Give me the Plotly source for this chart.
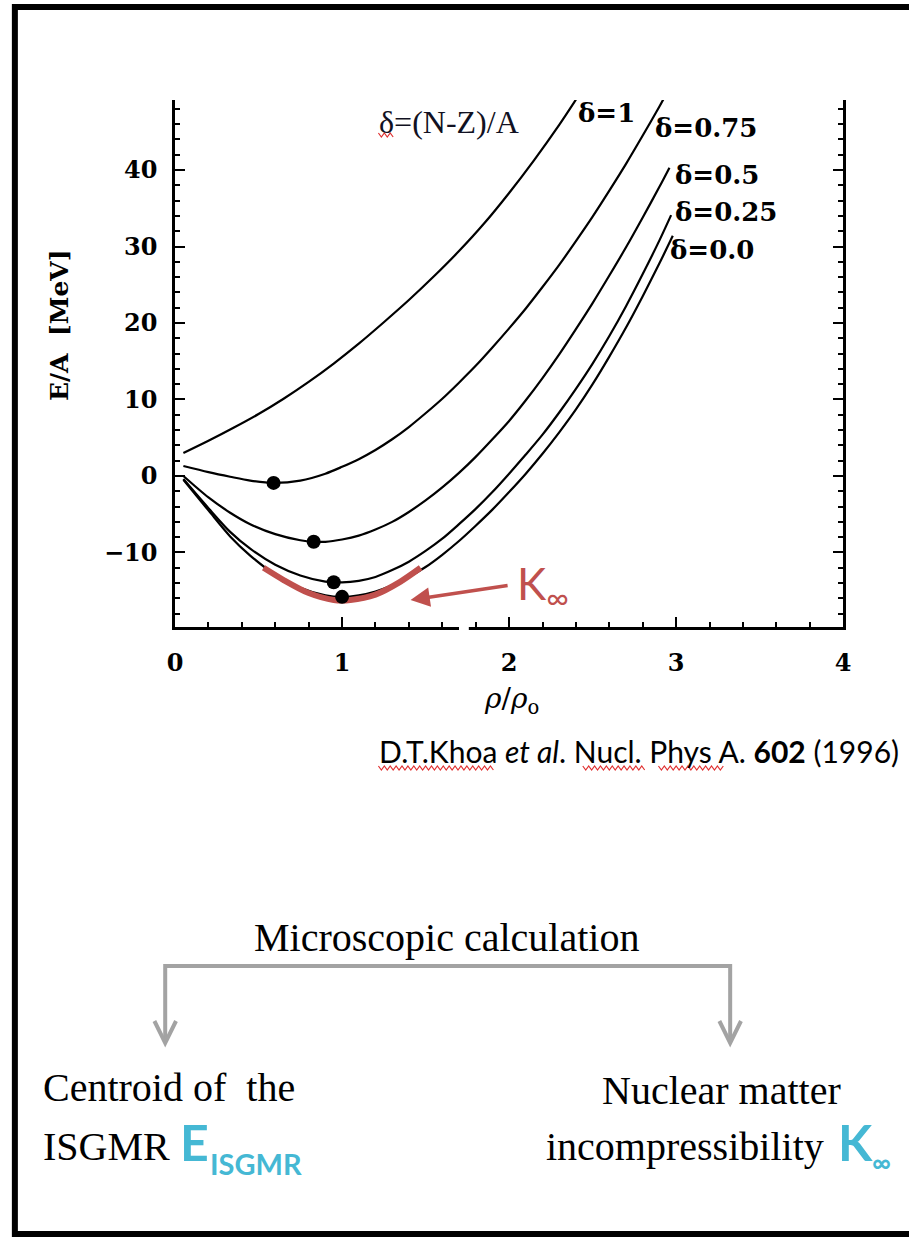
import plotly.graph_objects as go

W, H = 917, 1237

# ---------------- data ----------------
d1_x = [0.05, 0.20, 0.35, 0.50, 0.65, 0.80, 0.95, 1.10, 1.25, 1.40, 1.55, 1.70, 1.85, 2.00, 2.15, 2.30, 2.40]
d1_y = [3.0, 4.6, 6.3, 8.1, 10.1, 12.3, 14.7, 17.3, 20.1, 23.0, 26.1, 29.4, 33.0, 37.0, 41.3, 45.9, 49.2]

d075_x = [0.05, 0.20, 0.33, 0.45, 0.59, 0.75, 0.90, 1.00, 1.10, 1.20, 1.30, 1.40, 1.50, 1.60, 1.70,
          1.80, 1.90, 2.00, 2.10, 2.20, 2.30, 2.40, 2.50, 2.60, 2.70, 2.80, 2.90, 2.93]
d075_y = [1.3, 0.5, -0.1, -0.6, -0.9, -0.6, 0.3, 1.2, 2.2, 3.4, 4.8, 6.4, 8.2, 10.1, 12.2,
          14.4, 16.8, 19.3, 21.9, 24.7, 27.6, 30.7, 33.9, 37.3, 40.8, 44.5, 48.3, 49.5]

d05_x = [0.05, 0.20, 0.33, 0.45, 0.60, 0.75, 0.83, 0.90, 1.00, 1.10, 1.20, 1.30, 1.40, 1.50, 1.60,
         1.70, 1.80, 1.90, 2.00, 2.10, 2.20, 2.30, 2.40, 2.50, 2.60, 2.70, 2.80, 2.90, 2.96]
d05_y = [0.0, -2.8, -4.8, -6.3, -7.6, -8.4, -8.6, -8.6, -8.3, -7.8, -7.0, -6.0, -4.7, -3.2, -1.5,
         0.4, 2.5, 4.8, 7.2, 9.9, 12.8, 15.9, 19.2, 22.6, 26.2, 29.9, 33.8, 37.8, 40.3]

d025_x = [0.05, 0.20, 0.33, 0.45, 0.60, 0.75, 0.90, 1.00, 1.10, 1.20, 1.30, 1.40, 1.50, 1.60, 1.70,
          1.80, 1.90, 2.00, 2.10, 2.20, 2.30, 2.40, 2.50, 2.60, 2.70, 2.80, 2.90, 2.97]
d025_y = [-0.4, -4.2, -7.3, -9.5, -11.6, -13.0, -13.8, -13.9, -13.7, -13.2, -12.3, -11.2, -9.8, -8.2, -6.3,
          -4.3, -2.1, 0.3, 2.8, 5.4, 8.3, 11.4, 14.7, 18.3, 22.2, 26.4, 30.8, 34.1]

d0_x = [0.05, 0.20, 0.33, 0.45, 0.60, 0.75, 0.90, 1.00, 1.10, 1.20, 1.30, 1.40, 1.50, 1.60, 1.70,
        1.80, 1.90, 2.00, 2.10, 2.20, 2.30, 2.40, 2.50, 2.60, 2.70, 2.80, 2.90, 2.98]
d0_y = [-0.5, -4.5, -7.9, -10.4, -12.9, -14.6, -15.6, -15.8, -15.6, -15.1, -14.3, -13.2, -11.9, -10.3, -8.5,
        -6.5, -4.4, -2.1, 0.3, 2.9, 5.7, 8.7, 12.0, 15.6, 19.4, 23.5, 27.8, 31.4]

dot_x = [0.59, 0.83, 0.95, 1.00]
dot_y = [-0.9, -8.6, -13.9, -15.8]

kinf_x = [0.53, 0.65, 0.80, 0.95, 1.05, 1.20, 1.35, 1.47]
kinf_y = [-12.0, -13.6, -15.3, -16.2, -16.2, -15.5, -13.8, -12.0]

curve_labels = ["δ=1", "δ=0.75", "δ=0.5", "δ=0.25", "δ=0.0"]
label_x = [2.40, 2.86, 2.98, 2.98, 2.95]
label_y = [47.5, 45.5, 39.3, 34.5, 29.5]

x_ticks = [0, 1, 2, 3, 4]
y_ticks = [-10, 0, 10, 20, 30, 40]

# ---------------- helpers for page-pixel placement ----------------
def fx(p):
    return p / W

def fy(p):
    return 1 - p / H

fig = go.Figure()

curves = [(d1_x, d1_y), (d075_x, d075_y), (d05_x, d05_y), (d025_x, d025_y), (d0_x, d0_y)]
for (cx, cy), name in zip(curves, curve_labels):
    fig.add_trace(go.Scatter(x=cx, y=cy, mode="lines", name=name,
                             line=dict(color="black", width=2.2, shape="spline", smoothing=0.8),
                             showlegend=False, hoverinfo="skip"))

fig.add_trace(go.Scatter(x=kinf_x, y=kinf_y, mode="lines",
                         line=dict(color="#c0504d", width=6, shape="spline", smoothing=0.8),
                         showlegend=False, hoverinfo="skip"))

fig.add_trace(go.Scatter(x=dot_x, y=dot_y, mode="markers",
                         marker=dict(color="black", size=14),
                         showlegend=False, hoverinfo="skip"))

serif_bold = "DejaVu Serif"

fig.update_layout(
    width=W, height=H,
    margin=dict(l=0, r=0, t=0, b=0),
    paper_bgcolor="white", plot_bgcolor="white",
    xaxis=dict(domain=[fx(170), fx(850)], range=[0, 4],
               tickvals=x_ticks, ticktext=[str(v) for v in x_ticks],
               ticks="inside", ticklen=10, tickwidth=2, tickcolor="black",
               minor=dict(ticks="inside", dtick=0.2, ticklen=5, tickwidth=2, tickcolor="black"),
               showline=True, linewidth=2.5, linecolor="black", mirror=False,
               showgrid=False, zeroline=False, ticklabelstandoff=12,
               tickfont=dict(family=serif_bold, size=24, color="black", weight="bold")),
    yaxis=dict(domain=[fy(627), fy(100)], range=[-19.74, 49.15],
               tickvals=y_ticks, ticktext=["\u221210", "0", "10", "20", "30", "40"],
               ticks="inside", ticklen=10, tickwidth=2, tickcolor="black",
               minor=dict(ticks="inside", dtick=2, ticklen=5, tickwidth=2, tickcolor="black"),
               showline=True, linewidth=2.5, linecolor="black", mirror="ticks",
               showgrid=False, zeroline=False, ticklabelstandoff=10,
               tickfont=dict(family=serif_bold, size=24, color="black", weight="bold")),
)

ann = []
# curve labels
for t, lx, ly in zip(curve_labels, label_x, label_y):
    ann.append(dict(x=lx, y=ly, xref="x", yref="y", text=t, showarrow=False,
                    xanchor="left", yanchor="middle",
                    font=dict(family=serif_bold, size=26, color="black", weight="bold")))
ann.append(dict(x=fx(376), y=fy(122), xref="paper", yref="paper", text="δ=(N-Z)/A",
                showarrow=False, xanchor="left", yanchor="middle",
                font=dict(family="Liberation Serif", size=32, color="#111122")))
# axis titles
ann.append(dict(x=fx(52), y=fy(325), xref="paper", yref="paper", text="E/A  [MeV]",
                showarrow=False, textangle=-90, xanchor="center", yanchor="middle",
                font=dict(family=serif_bold, size=25, color="black", weight="bold")))
ann.append(dict(x=fx(512), y=fy(700), xref="paper", yref="paper",
                text="<i>ρ</i>/<i>ρ</i><sub>o</sub>",
                showarrow=False, xanchor="center", yanchor="middle",
                font=dict(family="DejaVu Serif", size=28, color="black")))
# K-infinity arrow and label
ann.append(dict(x=1.41, y=-16.2, ax=2.0, ay=-14.3, xref="x", yref="y", axref="x", ayref="y",
                text="", showarrow=True, arrowhead=2, arrowsize=1.1, arrowwidth=3.5,
                arrowcolor="#c0504d"))
ann.append(dict(x=fx(516), y=fy(587), xref="paper", yref="paper",
                text="K<sub>∞</sub>", showarrow=False, xanchor="left", yanchor="middle",
                font=dict(family="Lato", size=44, color="#c0504d")))
# citation
ann.append(dict(x=fx(376), y=fy(751), xref="paper", yref="paper",
                text="D.T.Khoa <i>et al</i>. Nucl. Phys A. <b>602</b> (1996)",
                showarrow=False, xanchor="left", yanchor="middle",
                font=dict(family="Lato", size=30, color="black")))
# lower diagram texts
ser = "Liberation Serif"
cyan = "#45b8d4"
ann.append(dict(x=fx(446), y=fy(937), xref="paper", yref="paper", text="Microscopic calculation",
                showarrow=False, xanchor="center", yanchor="middle",
                font=dict(family=ser, size=40, color="black")))
ann.append(dict(x=fx(34), y=fy(1087), xref="paper", yref="paper", text="Centroid of  the",
                showarrow=False, xanchor="left", yanchor="middle",
                font=dict(family=ser, size=40, color="black")))
ann.append(dict(x=fx(34), y=fy(1146), xref="paper", yref="paper", text="ISGMR",
                showarrow=False, xanchor="left", yanchor="middle",
                font=dict(family=ser, size=40, color="black")))
ann.append(dict(x=fx(173), y=fy(1142), xref="paper", yref="paper", text="<b>E</b>",
                showarrow=False, xanchor="left", yanchor="middle",
                font=dict(family="Lato", size=50, color=cyan)))
ann.append(dict(x=fx(204), y=fy(1163), xref="paper", yref="paper", text="<b>ISGMR</b>",
                showarrow=False, xanchor="left", yanchor="middle",
                font=dict(family="Lato", size=29, color=cyan)))
ann.append(dict(x=fx(726), y=fy(1090), xref="paper", yref="paper", text="Nuclear matter",
                showarrow=False, xanchor="center", yanchor="middle",
                font=dict(family=ser, size=40, color="black")))
ann.append(dict(x=fx(546), y=fy(1146), xref="paper", yref="paper", text="incompressibility",
                showarrow=False, xanchor="left", yanchor="middle",
                font=dict(family=ser, size=40, color="black")))
ann.append(dict(x=fx(843), y=fy(1142), xref="paper", yref="paper", text="<b>K</b>",
                showarrow=False, xanchor="left", yanchor="middle",
                font=dict(family="Lato", size=50, color=cyan)))
ann.append(dict(x=fx(877), y=fy(1162), xref="paper", yref="paper", text="<b>∞</b>",
                showarrow=False, xanchor="left", yanchor="middle",
                font=dict(family="Lato", size=26, color=cyan)))
fig.update_layout(annotations=ann)

# ---------------- shapes ----------------
def ppath(points):
    return "M " + " L ".join(f"{fx(a):.5f},{fy(b):.5f}" for a, b in points)

def wavy(x0, x1, yb, amp=2.0, step=3.0):
    pts = []
    x = x0
    up = True
    while x <= x1:
        pts.append((x, yb - amp if up else yb + amp))
        up = not up
        x += step
    return ppath(pts)

gray = "#a3a3a3"
shapes = [
    # outer frame
    dict(type="path", xref="paper", yref="paper",
         path=ppath([(917, 7), (7, 7), (7, 1234), (917, 1234)]),
         line=dict(color="black", width=6)),
    # bracket
    dict(type="path", xref="paper", yref="paper",
         path=ppath([(160, 1042), (160, 966), (735, 966), (735, 1042)]),
         line=dict(color=gray, width=4)),
    dict(type="path", xref="paper", yref="paper",
         path=ppath([(149, 1021), (160, 1043), (171, 1021)]),
         line=dict(color=gray, width=4)),
    dict(type="path", xref="paper", yref="paper",
         path=ppath([(724, 1021), (735, 1043), (746, 1021)]),
         line=dict(color=gray, width=4)),
    # small gap in bottom axis of the scanned figure
    dict(type="rect", xref="paper", yref="paper", x0=fx(459), x1=fx(469),
         y0=fy(632), y1=fy(622), fillcolor="white", line=dict(width=0), layer="above"),
    # spell-check squiggles
    dict(type="path", xref="paper", yref="paper", path=wavy(377, 393, 135),
         line=dict(color="#e03030", width=1.2)),
    dict(type="path", xref="paper", yref="paper", path=wavy(377, 494, 768),
         line=dict(color="#e03030", width=1.2)),
    dict(type="path", xref="paper", yref="paper", path=wavy(585, 648, 768),
         line=dict(color="#e03030", width=1.2)),
    dict(type="path", xref="paper", yref="paper", path=wavy(662, 728, 768),
         line=dict(color="#e03030", width=1.2)),
]
fig.update_layout(shapes=shapes)

fig.write_html("out.html")
